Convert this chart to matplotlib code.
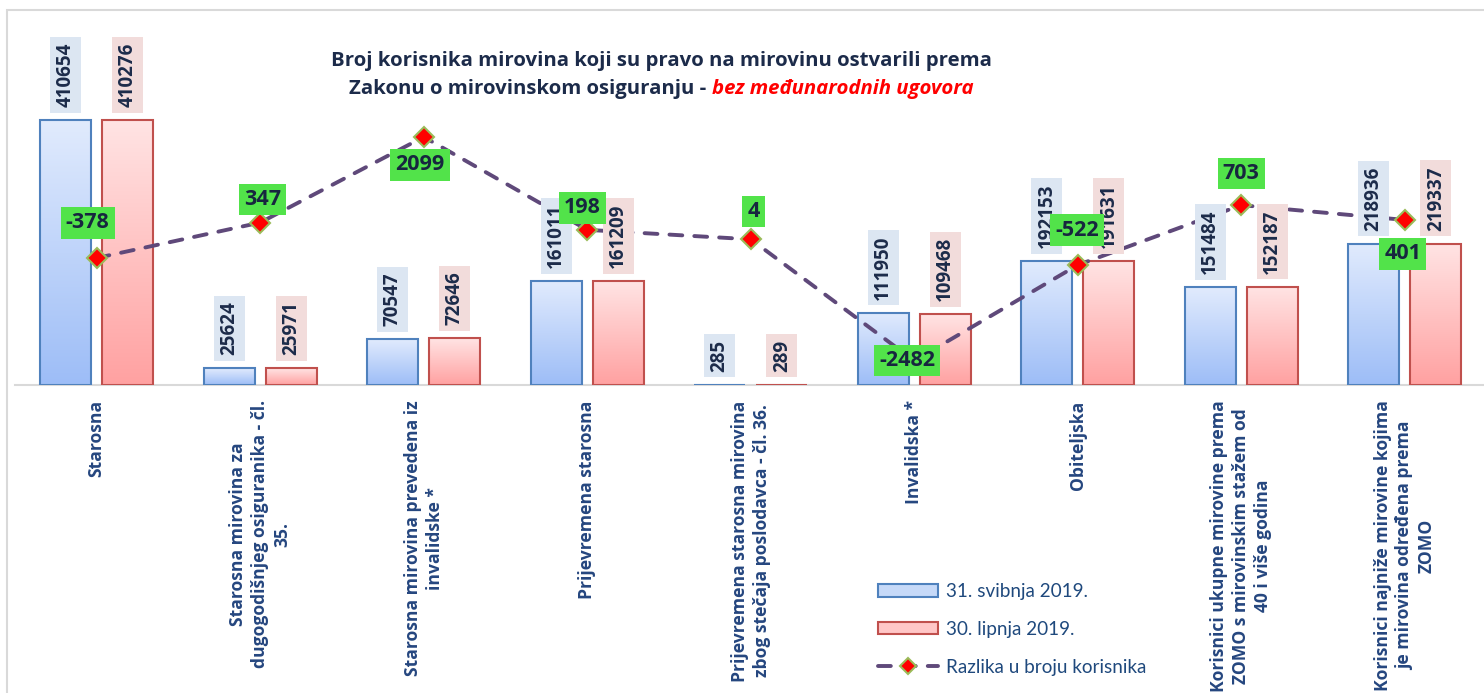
import os
import numpy as np
import matplotlib
matplotlib.use("Agg")
import matplotlib.pyplot as plt
from matplotlib import font_manager as fm
from matplotlib.font_manager import FontProperties
from matplotlib.colors import LinearSegmentedColormap
from matplotlib.patches import Rectangle, Patch
from matplotlib.lines import Line2D

# ---------------- data ----------------
categories = [
    "Starosna",
    "Starosna mirovina za\ndugogodišnjeg osiguranika - čl.\n35.",
    "Starosna mirovina prevedena iz\ninvalidske *",
    "Prijevremena starosna",
    "Prijevremena starosna mirovina\nzbog stečaja poslodavca - čl. 36.",
    "Invalidska *",
    "Obiteljska",
    "Korisnici ukupne mirovine prema\nZOMO s mirovinskim stažem od\n40 i više godina",
    "Korisnici najniže mirovine kojima\nje mirovina određena prema\nZOMO",
]
may_2019 = [410654, 25624, 70547, 161011, 285, 111950, 192153, 151484, 218936]
jun_2019 = [410276, 25971, 72646, 161209, 289, 109468, 191631, 152187, 219337]
difference = [-378, 347, 2099, 198, 4, -2482, -522, 703, 401]
series_labels = ["31. svibnja 2019.", "30. lipnja 2019.", "Razlika u broju korisnika"]
title_line1 = "Broj korisnika mirovina koji su pravo na mirovinu ostvarili prema"
title_line2a = "Zakonu o mirovinskom osiguranju -"
title_line2b = "bez međunarodnih ugovora"

# label offsets (pixels) for the difference labels
diff_label_offsets = [(-9, 35), (2, 23), (-4, -28), (-5, 22), (3, 28),
                      (-7, 0), (-1, 35), (0, 32), (-2, -34)]


# ---------------- fonts ----------------
def find_font(family, weight, style, size):
    cands = [f for f in fm.fontManager.ttflist
             if f.name == family and f.style == style
             and "ondensed" not in f.fname and "xpanded" not in f.fname
             and "[" not in os.path.basename(f.fname)]
    if not cands:
        cands = [f for f in fm.fontManager.ttflist if f.name == family and f.style == style]
    if not cands:
        return FontProperties(family="DejaVu Sans", weight=weight, style=style, size=size)
    best = min(cands, key=lambda f: abs(int(f.weight) - weight))
    return FontProperties(fname=best.fname, size=size)


W, H = 1484, 693
NAVY = "#1C2B4A"
CAT_COLOR = "#25467F"

fp_cat = find_font("Open Sans", 700, "normal", 12.6)
fp_bar = find_font("Open Sans", 700, "normal", 13.5)
fp_diff = find_font("Open Sans", 700, "normal", 15.5)
fp_title = find_font("Open Sans", 700, "normal", 14.7)
fp_title_i = find_font("Open Sans", 700, "italic", 14.7)
fp_leg = find_font("Lato", 400, "normal", 13.6)

fig = plt.figure(figsize=(W / 100, H / 100), dpi=100)

# outer chart frame
fig.add_artist(Rectangle((7 / W, -0.1), 2, 1 - 10 / H + 0.1, transform=fig.transFigure,
                         fill=False, ec="#D9D9D9", lw=1.5))

ax = fig.add_axes([15 / W, 1 - 385 / H, 1471.5 / W, 375 / H])
ax.patch.set_visible(False)
x = np.arange(len(categories))
bw, off = 0.31, 0.19

bars_b = ax.bar(x - off, may_2019, bw, facecolor="none", edgecolor="#4F81BD", lw=1.5, zorder=3)
bars_r = ax.bar(x + off, jun_2019, bw, facecolor="none", edgecolor="#C0504D", lw=1.5, zorder=3)

cmap_b = LinearSegmentedColormap.from_list("b", ["#9DBDF7", "#E1EBFD"])
cmap_r = LinearSegmentedColormap.from_list("r", ["#FFA1A1", "#FFE4E4"])
grad = np.linspace(0, 1, 256).reshape(-1, 1)
for bars, cm in ((bars_b, cmap_b), (bars_r, cmap_r)):
    for b in bars:
        bx, by, w, h = b.get_x(), b.get_y(), b.get_width(), b.get_height()
        ax.imshow(grad, extent=(bx, bx + w, by, by + h), origin="lower", aspect="auto",
                  cmap=cm, zorder=2, interpolation="bilinear")

ax.set_xlim(-0.5, len(categories) - 0.5)
ax.set_ylim(0, 581400)
ax.set_yticks([])
ax.set_xticks(x)
ax.set_xticklabels(categories, rotation=90, color=CAT_COLOR, fontproperties=fp_cat,
                   multialignment="center", linespacing=1.3)
ax.tick_params(axis="x", length=0, pad=11)
for s in ("top", "left", "right"):
    ax.spines[s].set_visible(False)
ax.spines["bottom"].set_color("#D9D9D9")
ax.spines["bottom"].set_linewidth(1.5)

# secondary axis for the difference line
ax2 = ax.twinx()
ax2.set_ylim(-2978, 4698)
ax2.set_axis_off()
line_style = dict(ls=(0, (3.3, 3.1)), lw=2.8, color="#5F497A", marker="D", ms=10,
                  mfc="#FF0000", mec="#9BBB59", mew=1.5, dash_capstyle="round")
ax2.plot(x, difference, zorder=3, **line_style)

# bar value labels (drawn on ax2 so they sit above the line)
for vals, dx, bg in ((may_2019, -off, "#DCE6F2"), (jun_2019, off, "#F2DCDB")):
    for i, v in enumerate(vals):
        ax2.annotate(f"{v}", xy=(x[i] + dx, v), xycoords=ax.transData,
                     xytext=(0, 13), textcoords="offset pixels", rotation=90,
                     ha="center", va="bottom", fontproperties=fp_bar,
                     color=NAVY, zorder=4,
                     bbox=dict(boxstyle="square,pad=0.3", fc=bg, ec="none"))

# difference labels
for i, d in enumerate(difference):
    ax2.annotate(f"{d}", xy=(x[i], d), xytext=diff_label_offsets[i], textcoords="offset pixels",
                 ha="center", va="center", fontproperties=fp_diff, color="#17263F", zorder=5,
                 bbox=dict(boxstyle="square,pad=0.24", fc="#52E34A", ec="none"))

# title
fig.text(661 / W, 1 - 61 / H, title_line1, ha="center", va="center",
         fontproperties=fp_title, color=NAVY)
t1 = fig.text(0, 1 - 89 / H, title_line2a, ha="left", va="center",
              fontproperties=fp_title, color=NAVY)
t2 = fig.text(0, 1 - 89 / H, title_line2b, ha="left", va="center",
              fontproperties=fp_title_i, color="#FF0000")
fig.canvas.draw()
r = fig.canvas.get_renderer()
w1 = t1.get_window_extent(r).width
w2 = t2.get_window_extent(r).width
gap = 6
x0 = 661 - (w1 + gap + w2) / 2
t1.set_x(x0 / W)
t2.set_x((x0 + w1 + gap) / W)

# legend
handles = [Patch(fc="#C6D9F8", ec="#4F81BD", lw=1.5),
           Patch(fc="#FFC7C7", ec="#C0504D", lw=1.5),
           Line2D([], [], **dict(line_style, ms=8))]
fig.legend(handles, series_labels, loc="upper left", bbox_to_anchor=(878 / W, 1 - 583 / H),
           frameon=False, prop=fp_leg, labelcolor="#1F497D",
           handlelength=3.2, handleheight=0.65, labelspacing=1.1, handletextpad=0.4,
           borderaxespad=0, borderpad=0)

fig.savefig("out.png", dpi=100)
